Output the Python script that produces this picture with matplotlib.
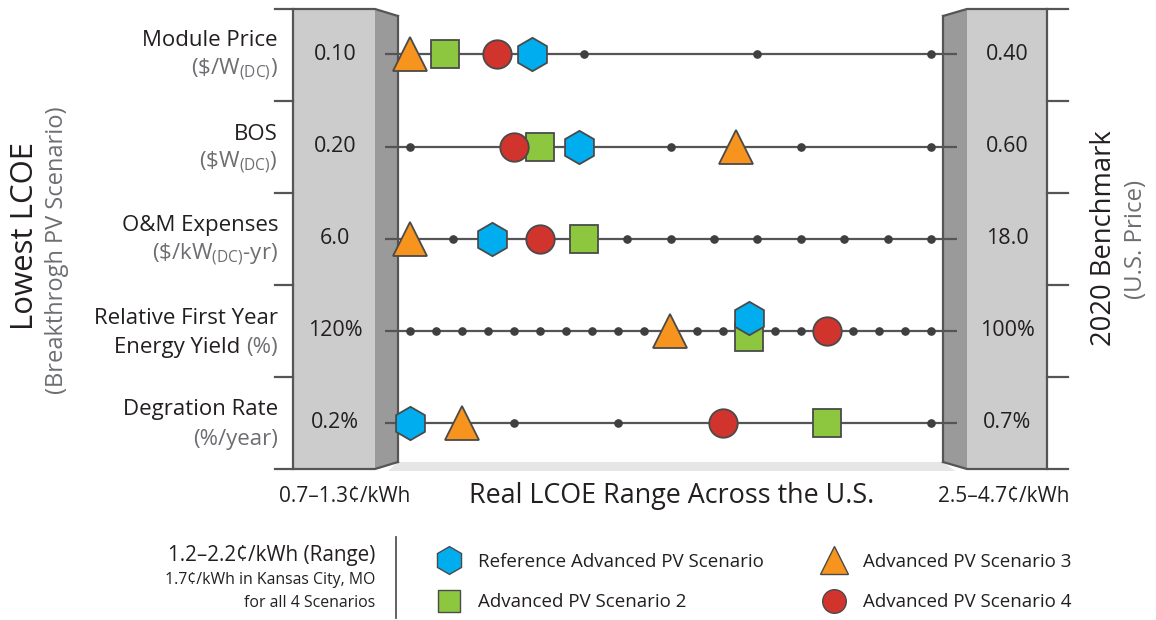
import numpy as np
import matplotlib
matplotlib.use("Agg")
import matplotlib.pyplot as plt
from matplotlib.patches import Polygon
from matplotlib.lines import Line2D

plt.rcParams['font.family'] = ['Open Sans', 'DejaVu Sans']
plt.rcParams['mathtext.fontset'] = 'custom'
plt.rcParams['mathtext.rm'] = 'Open Sans'
plt.rcParams['mathtext.default'] = 'regular'

# ---------------- data ----------------
metric_names = ["Module Price", "BOS", "O&M Expenses", "Relative First Year", "Degration Rate"]
metric_units = [r"(\$/W$_{(DC)}$)", r"(\$W$_{(DC)}$)", r"(\$/kW$_{(DC)}$-yr)", "(%)", "(%/year)"]
low_values = [0.10, 0.20, 6.0, 120, 0.2]          # lowest LCOE end (left)
bench_values = [0.40, 0.60, 18.0, 100, 0.7]       # 2020 benchmark end (right)
low_labels = ["0.10", "0.20", "6.0", "120%", "0.2%"]
bench_labels = ["0.40", "0.60", "18.0", "100%", "0.7%"]
tick_steps = [3, 4, 12, 20, 5]                    # number of intervals between dots

scenario_names = ["Reference Advanced PV Scenario", "Advanced PV Scenario 2",
                  "Advanced PV Scenario 3", "Advanced PV Scenario 4"]
ref_values = [0.17, 0.33, 7.9, 107, 0.20]
scen2_values = [0.12, 0.30, 10.0, 107, 0.60]
scen3_values = [0.10, 0.45, 6.0, 110, 0.25]
scen4_values = [0.15, 0.28, 9.0, 104, 0.50]

lcoe_low = "0.7–1.3¢/kWh"
lcoe_high = "2.5–4.7¢/kWh"
range_lines = ["1.2–2.2¢/kWh (Range)", "1.7¢/kWh in Kansas City, MO", "for all 4 Scenarios"]

# ---------------- style ----------------
W, H = 1156, 620
DARK = '#231F20'
GREY = '#6D6E71'
EDGE = '#4A4A4A'
LINE = '#555555'
FRONT = '#CCCCCC'
SIDE = '#9A9A9A'
colors = {'hex': '#00AEEF', 'sq': '#8DC63F', 'tri': '#F7941D', 'circ': '#D0342C'}
mk = {'hex': 'h', 'sq': 's', 'tri': '^', 'circ': 'o'}
msz = {'hex': 24, 'sq': 20, 'tri': 25, 'circ': 20.5}

row_y = [54, 147, 239, 331, 423]
x_left_val, x_right_val = 410, 931     # pixel positions of the end values
ax_x0, ax_x1 = 385, 957                # extent of row line

fig = plt.figure(figsize=(W / 100, H / 100), dpi=100)
bg = fig.add_axes([0, 0, 1, 1])
bg.set_xlim(0, W)
bg.set_ylim(H, 0)
bg.axis('off')

# ---- boxes ----
top, bot = 9, 469
bg.add_patch(Polygon([(293, top), (375, top), (375, bot), (293, bot)], closed=True,
                     facecolor=FRONT, edgecolor='none', zorder=1))
bg.add_patch(Polygon([(375, top), (398, 16), (398, 462), (375, bot)], closed=True,
                     facecolor=SIDE, edgecolor='none', zorder=1))
bg.add_patch(Polygon([(967, top), (1047, top), (1047, bot), (967, bot)], closed=True,
                     facecolor=FRONT, edgecolor='none', zorder=1))
bg.add_patch(Polygon([(943, 16), (967, top), (967, bot), (943, 462)], closed=True,
                     facecolor=SIDE, edgecolor='none', zorder=1))
# floor shadow
bg.add_patch(Polygon([(398, 462), (943, 462), (955, 471), (388, 471)], closed=True,
                     facecolor='#E6E6E6', edgecolor='none', zorder=0.5))
# outlines
olw = 1.6
bg.plot([293, 293], [top, bot], color=LINE, lw=olw, zorder=2)
bg.plot([398, 398], [16, 462], color=LINE, lw=olw, zorder=2)
bg.plot([943, 943], [16, 462], color=LINE, lw=olw, zorder=2)
bg.plot([1047, 1047], [top, bot], color=LINE, lw=olw, zorder=2)
bg.plot([275, 375, 398], [top, top, 16], color=LINE, lw=olw, zorder=2)
bg.plot([275, 375, 398], [bot, bot, 462], color=LINE, lw=olw, zorder=2)
bg.plot([943, 967, 1068], [16, top, top], color=LINE, lw=olw, zorder=2)
bg.plot([943, 967, 1068], [462, bot, bot], color=LINE, lw=olw, zorder=2)
for yy in [101, 193, 285, 377]:
    bg.plot([275, 293], [yy, yy], color=LINE, lw=olw, zorder=2)
    bg.plot([1047, 1068], [yy, yy], color=LINE, lw=olw, zorder=2)

# ---- left labels ----
fs_lab = 16
for i, yc in enumerate(row_y):
    if i == 3:
        bg.text(278, yc - 13, metric_names[i], ha='right', va='center', fontsize=fs_lab, color=DARK)
        t = bg.text(278, yc + 16, metric_units[i], ha='right', va='center', fontsize=fs_lab, color=GREY)
        bg.annotate("Energy Yield ", xy=(0, 0.5), xycoords=t, ha='right', va='center',
                    fontsize=fs_lab, color=DARK)
    else:
        bg.text(278, yc - 13, metric_names[i], ha='right', va='center', fontsize=fs_lab, color=DARK)
        bg.text(278, yc + 16, metric_units[i], ha='right', va='center', fontsize=fs_lab, color=GREY)
    bg.text(335, yc, low_labels[i], ha='center', va='center', fontsize=15.5, color=DARK)
    bg.text(1007, yc, bench_labels[i], ha='center', va='center', fontsize=15.5, color=DARK)

bg.text(25, 236, "Lowest LCOE", rotation=90, ha='center', va='center', fontsize=22.4, color=DARK)
bg.text(57, 250, "(Breakthrogh PV Scenario)", rotation=90, ha='center', va='center',
        fontsize=17, color=GREY)
bg.text(1104, 238, "2020 Benchmark", rotation=90, ha='center', va='center', fontsize=19.7, color=DARK)
bg.text(1136, 239, "(U.S. Price)", rotation=90, ha='center', va='center', fontsize=17.3, color=GREY)

bg.text(345, 496, lcoe_low, ha='center', va='center', fontsize=15, color=DARK)
bg.text(1004, 496, lcoe_high, ha='center', va='center', fontsize=15, color=DARK)
bg.text(672, 496, "Real LCOE Range Across the U.S.", ha='center', va='center', fontsize=19.4, color=DARK)

# ---- range note ----
bg.text(375, 555, range_lines[0], ha='right', va='center', fontsize=14.9, color=DARK)
bg.text(375, 580, range_lines[1], ha='right', va='center', fontsize=11.4, color=DARK)
bg.text(375, 603, range_lines[2], ha='right', va='center', fontsize=11.4, color=DARK)
bg.plot([396, 396], [537, 618], color=LINE, lw=1.3)

# ---- rows ----
series = [('sq', scen2_values), ('tri', scen3_values), ('circ', scen4_values), ('hex', ref_values)]
stack = {(3, 'hex'): 13, (3, 'sq'): -6}
half = 46
for i, yc in enumerate(row_y):
    rect = [ax_x0 / W, 1 - (yc + half) / H, (ax_x1 - ax_x0) / W, 2 * half / H]
    ax = fig.add_axes(rect)
    ax.patch.set_alpha(0)
    ax.axis('off')
    vl, vr = low_values[i], bench_values[i]
    ppu = (x_right_val - x_left_val) / (vr - vl)
    ax.set_xlim(vl - (x_left_val - ax_x0) / ppu, vr + (ax_x1 - x_right_val) / ppu)
    ax.set_ylim(-half, half)
    ax.axhline(0, color=LINE, lw=1.6, zorder=1)
    ticks = np.linspace(vl, vr, tick_steps[i] + 1)
    ax.plot(ticks, np.zeros_like(ticks), 'o', ms=5.2, color='#3F3F3F', zorder=2, clip_on=False)
    for z, (key, vals) in enumerate(series):
        ax.plot([vals[i]], [stack.get((i, key), 0)], marker=mk[key], ms=msz[key],
                mfc=colors[key], mec=EDGE, mew=1.3, ls='none', zorder=3 + z, clip_on=False)

# ---- legend ----
handles = [
    Line2D([], [], marker='h', ms=20, mfc=colors['hex'], mec=EDGE, mew=1.0, ls='none'),
    Line2D([], [], marker='s', ms=16, mfc=colors['sq'], mec=EDGE, mew=1.0, ls='none'),
    Line2D([], [], marker='^', ms=20, mfc=colors['tri'], mec=EDGE, mew=1.0, ls='none'),
    Line2D([], [], marker='o', ms=17, mfc=colors['circ'], mec=EDGE, mew=1.0, ls='none'),
]
labels = [scenario_names[0], scenario_names[1], scenario_names[2], scenario_names[3]]
fig.legend(handles, labels, ncol=2, loc='upper left', bbox_to_anchor=(435, 553),
           bbox_transform=bg.transData, frameon=False, fontsize=13.5, handlelength=1.5,
           handletextpad=0.8, columnspacing=3.0, labelspacing=1.18, borderpad=0,
           borderaxespad=0, labelcolor=DARK)

fig.savefig('out.png', dpi=100)
